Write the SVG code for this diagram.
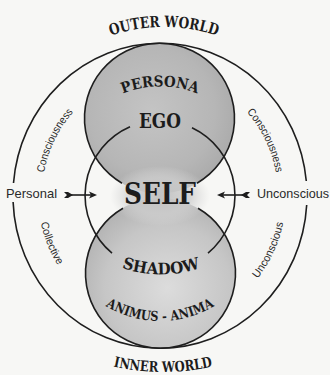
<svg xmlns="http://www.w3.org/2000/svg" width="330" height="375" viewBox="0 0 330 375">
<style>
.ln{fill:none;stroke:#1e1e1e;stroke-width:1.6}
.ttl{font-family:"DejaVu Serif","Liberation Serif",serif;font-weight:bold;fill:#1c1c1c}
.lab{font-family:"Liberation Sans","DejaVu Sans",sans-serif;fill:#2a2a2a}
.arw{fill:#1e1e1e}
</style>
<defs>
<radialGradient id="gTop" cx="0.45" cy="0.45" r="0.6">
<stop offset="0" stop-color="#c4c4c4"/>
<stop offset="0.7" stop-color="#b6b6b6"/>
<stop offset="1" stop-color="#a9a9a9"/>
</radialGradient>
<radialGradient id="gBot" cx="0.55" cy="0.6" r="0.6">
<stop offset="0" stop-color="#dcdcdc"/>
<stop offset="0.7" stop-color="#c6c6c6"/>
<stop offset="1" stop-color="#b4b4b4"/>
</radialGradient>
<radialGradient id="gMid" cx="0.5" cy="0.5" r="0.5">
<stop offset="0" stop-color="#c2c2c2"/>
<stop offset="0.6" stop-color="#cdcdcd" stop-opacity="0.8"/>
<stop offset="1" stop-color="#d8d8d8" stop-opacity="0"/>
</radialGradient>
<path id="pOuter" d="M 84 47.5 A 166 166 0 0 1 244 47.5"/>
<path id="pInner" d="M 83 357.6 A 230 230 0 0 0 243 357.6"/>
<path id="pPersona" d="M 100 106.4 A 100 100 0 0 1 220 106.4"/>
<path id="pShadow" d="M 101 258.3 A 120 120 0 0 0 221 258.3"/>
<path id="pAnima" d="M 85 289.5 A 105 105 0 0 0 235 289.5"/>
<path id="pConsL" d="M 45.0 223.2 A 118 123 0 0 1 113.9 82.3"/>
<path id="pConsR" d="M 206.1 82.3 A 118 123 0 0 1 275.0 223.2"/>
<path id="pColl" d="M 43.3 158.1 A 122 128 0 0 0 104.6 309.5"/>
<path id="pUnc" d="M 211.2 315.2 A 126 131 0 0 0 282.3 163.8"/>
</defs>
<rect width="330" height="375" fill="#f7f7f5"/>

<g id="persona-circle">
<circle cx="159.5" cy="118.5" r="75" fill="url(#gTop)"/>
</g>
<g id="shadow-circle">
<circle cx="160" cy="273" r="75" fill="url(#gBot)"/>
</g>
<g id="self-circle">
<ellipse cx="160" cy="196" rx="50" ry="30" fill="url(#gMid)"/>
</g>

<g id="outlines">
<path class="ln" d="M 13.5 183 A 147 152.5 0 0 1 306.3 181"/>
<path class="ln" d="M 306.7 205 A 147 152.5 0 0 1 13.1 202"/>
<path class="ln" d="M 122 183.2 A 75 75 0 1 1 197 183.2"/>
<path class="ln" d="M 123 208.3 A 75 75 0 1 0 198 208.3"/>
<path class="ln" d="M 130 126.8 A 75 75 0 0 0 112 253.1"/>
<path class="ln" d="M 192 127.7 A 75 75 0 0 1 208 253.1"/>
</g>

<g id="titles">
<text class="ttl" font-size="15.5"><textPath href="#pOuter" startOffset="50%" text-anchor="middle" textLength="108" lengthAdjust="spacingAndGlyphs">OUTER WORLD</textPath></text>
<text class="ttl" font-size="14.5"><textPath href="#pInner" startOffset="50%" text-anchor="middle" textLength="100" lengthAdjust="spacingAndGlyphs">INNER WORLD</textPath></text>
</g>

<g id="node-persona">
<text class="ttl" font-size="15"><textPath href="#pPersona" startOffset="50%" text-anchor="middle" textLength="76" lengthAdjust="spacingAndGlyphs">PERSONA</textPath></text>
</g>
<g id="node-ego">
<text class="ttl" x="160" y="128" font-size="19.5" text-anchor="middle" textLength="42" lengthAdjust="spacingAndGlyphs">EGO</text>
</g>
<g id="node-self">
<text class="ttl" x="160" y="203.5" font-size="30" text-anchor="middle" textLength="72" lengthAdjust="spacingAndGlyphs">SELF</text>
</g>
<g id="node-shadow">
<text class="ttl" font-size="16"><textPath href="#pShadow" startOffset="50%" text-anchor="middle" textLength="80" lengthAdjust="spacingAndGlyphs">SHADOW</textPath></text>
</g>
<g id="node-anima">
<text class="ttl" font-size="13.5"><textPath href="#pAnima" startOffset="50%" text-anchor="middle" textLength="114" lengthAdjust="spacingAndGlyphs">ANIMUS - ANIMA</textPath></text>
</g>

<g id="side-labels">
<text class="lab" font-size="11"><textPath href="#pConsL" startOffset="50%" text-anchor="middle" textLength="68" lengthAdjust="spacingAndGlyphs">Consciousness</textPath></text>
<text class="lab" font-size="11"><textPath href="#pConsR" startOffset="50%" text-anchor="middle" textLength="68" lengthAdjust="spacingAndGlyphs">Consciousness</textPath></text>
<text class="lab" font-size="11"><textPath href="#pColl" startOffset="50%" text-anchor="middle" textLength="46" lengthAdjust="spacingAndGlyphs">Collective</textPath></text>
<text class="lab" font-size="11"><textPath href="#pUnc" startOffset="50%" text-anchor="middle" textLength="62" lengthAdjust="spacingAndGlyphs">Unconscious</textPath></text>
<text class="lab" x="6" y="197.5" font-size="13" textLength="51" lengthAdjust="spacingAndGlyphs">Personal</text>
<text class="lab" x="257" y="197.5" font-size="13" textLength="72" lengthAdjust="spacingAndGlyphs">Unconscious</text>
</g>

<g id="connectors">
<line class="ln" x1="68" y1="195" x2="92" y2="195" stroke-width="1.3"/>
<polygon class="arw" points="64,192 68,192 73,195 68,198 64,198 67,195"/>
<polygon class="arw" points="97,195 89,191.5 91,195 89,198.5"/>
<line class="ln" x1="222" y1="195" x2="246" y2="195" stroke-width="1.3"/>
<polygon class="arw" points="250,192 246,192 241,195 246,198 250,198 247,195"/>
<polygon class="arw" points="217,195 225,191.5 223,195 225,198.5"/>
</g>
</svg>
